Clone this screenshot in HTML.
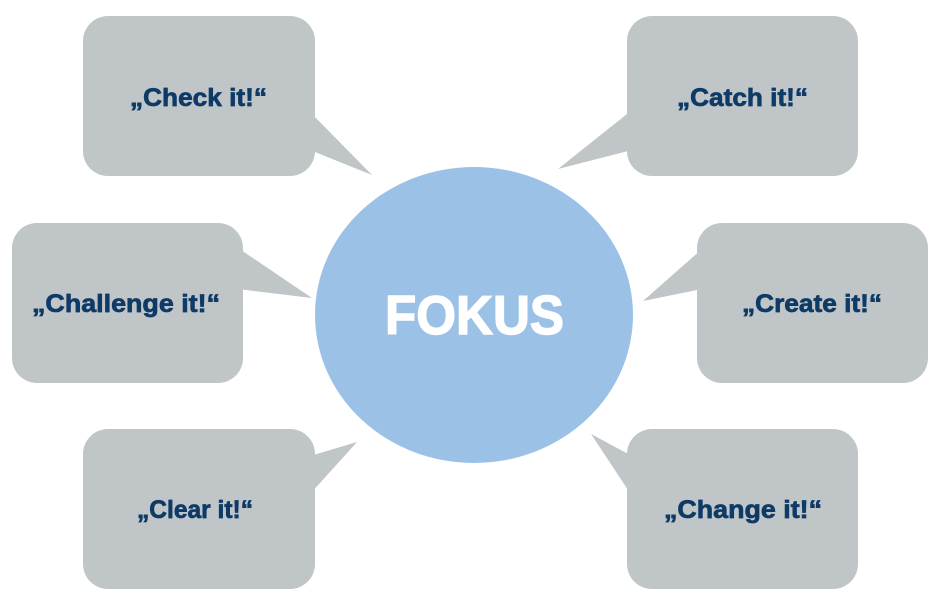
<!DOCTYPE html>
<html>
<head>
<meta charset="utf-8">
<style>
  html, body { margin: 0; padding: 0; background: #ffffff; }
  svg { display: block; }
  .lbl { font-family: "Liberation Sans", "DejaVu Sans", sans-serif; font-weight: bold; font-size: 25px; fill: #0e3a66; stroke: #0e3a66; stroke-width: 0.7px; }
  .big { font-family: "Liberation Sans", "DejaVu Sans", sans-serif; font-weight: bold; font-size: 55px; fill: #ffffff; stroke: #ffffff; stroke-width: 1.4px; }
</style>
</head>
<body>
<svg width="941" height="602" viewBox="0 0 941 602" xmlns="http://www.w3.org/2000/svg">
  <g fill="#c0c5c8">
    <!-- Check it -->
    <rect x="83" y="16" width="232" height="160" rx="25" ry="25"/>
    <polygon points="310,112 372,175 310,150"/>
    <!-- Catch it -->
    <rect x="627" y="16" width="231" height="160" rx="25" ry="25"/>
    <polygon points="632,110 558,169 632,150"/>
    <!-- Challenge it -->
    <rect x="12" y="223" width="231" height="160" rx="25" ry="25"/>
    <polygon points="238,248 312,298 238,289"/>
    <!-- Create it -->
    <rect x="697" y="223" width="231" height="160" rx="25" ry="25"/>
    <polygon points="702,249 643,301 702,289"/>
    <!-- Clear it -->
    <rect x="83" y="429" width="232" height="160" rx="25" ry="25"/>
    <polygon points="310,456 357,442 310,494"/>
    <!-- Change it -->
    <rect x="627" y="429" width="231" height="160" rx="25" ry="25"/>
    <polygon points="632,456 591,434 632,496"/>
  </g>

  <ellipse cx="474" cy="315" rx="159" ry="148" fill="#9bc2e6"/>
  <text class="big" x="385" y="334" textLength="179" lengthAdjust="spacingAndGlyphs">FOKUS</text>

  <text class="lbl" x="130" y="106" textLength="137" lengthAdjust="spacingAndGlyphs">„Check it!“</text>
  <text class="lbl" x="677" y="106" textLength="131" lengthAdjust="spacingAndGlyphs">„Catch it!“</text>
  <text class="lbl" x="32" y="312" textLength="188" lengthAdjust="spacingAndGlyphs">„Challenge it!“</text>
  <text class="lbl" x="742" y="312" textLength="140" lengthAdjust="spacingAndGlyphs">„Create it!“</text>
  <text class="lbl" x="137" y="518" textLength="116" lengthAdjust="spacingAndGlyphs">„Clear it!“</text>
  <text class="lbl" x="664" y="518" textLength="158" lengthAdjust="spacingAndGlyphs">„Change it!“</text>
</svg>
</body>
</html>
